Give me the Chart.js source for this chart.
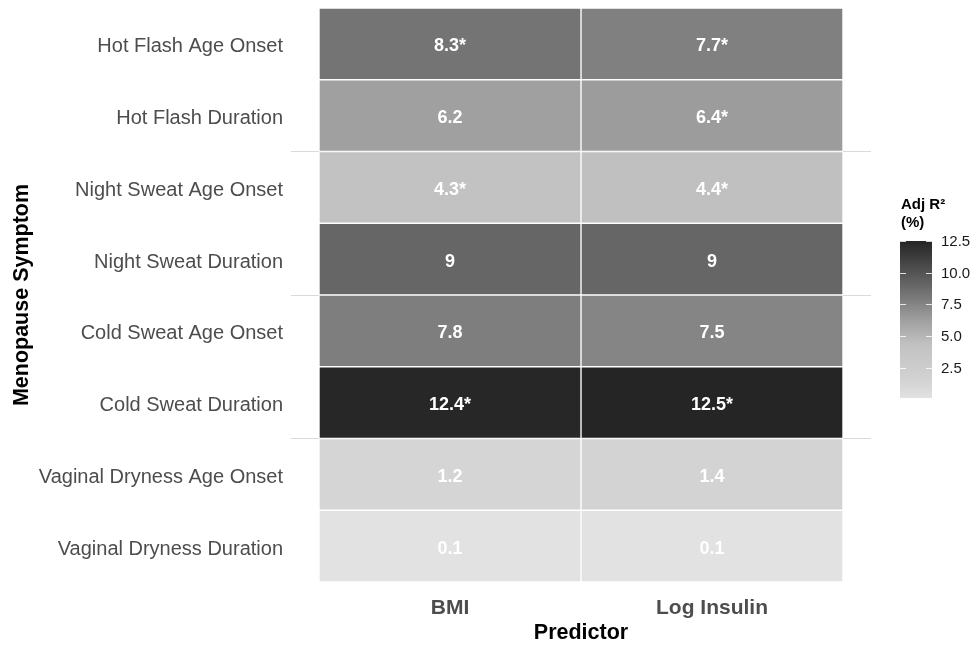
<!DOCTYPE html>
<html>
<head>
<meta charset="utf-8">
<script src="https://cdn.jsdelivr.net/npm/chart.js@4.4.1/dist/chart.umd.min.js"></script>
<style>
  html, body { margin: 0; padding: 0; background: #ffffff; }
  #heat { display: block; }
</style>
</head>
<body>
<canvas id="heat" width="976" height="646"></canvas>
<script>
// --- DATA ---
const symptoms = [
  "Hot Flash Age Onset", "Hot Flash Duration",
  "Night Sweat Age Onset", "Night Sweat Duration",
  "Cold Sweat Age Onset", "Cold Sweat Duration",
  "Vaginal Dryness Age Onset", "Vaginal Dryness Duration"
];
const predictors = ["BMI", "Log Insulin"];
const bmiR2 = [8.3, 6.2, 4.3, 9, 7.8, 12.4, 1.2, 0.1];
const insulinR2 = [7.7, 6.4, 4.4, 9, 7.5, 12.5, 1.4, 0.1];
const bmiSig = [true, false, true, false, false, true, false, false];
const insulinSig = [true, true, true, false, false, true, false, false];
const legendTicks = [2.5, 5.0, 7.5, 10.0, 12.5];
const fillMin = 0.1, fillMax = 12.5;

// grey ramp (value -> grey level)
const shadeStops = [[0.1, 226], [1.3, 212], [4.3, 194], [6.3, 158], [8.0, 122], [9, 102], [12.5, 37]];

const FONT = "'Liberation Sans', Arial, Helvetica, sans-serif";

function shade(v) {
  let g = shadeStops[0][1];
  for (let i = 1; i < shadeStops.length; i++) {
    const [v0, g0] = shadeStops[i - 1], [v1, g1] = shadeStops[i];
    if (v <= v1) { g = g0 + (g1 - g0) * Math.max(0, (v - v0) / (v1 - v0)); break; }
    g = g1;
  }
  g = Math.round(g);
  return `rgb(${g},${g},${g})`;
}

const columns = [bmiR2, insulinR2];
const stars = [bmiSig, insulinSig];

// one floating bar per cell, spanning its predictor column
const datasets = predictors.map((name, j) => ({
  label: name,
  data: symptoms.map(() => [j, j + 1]),
  backgroundColor: columns[j].map(shade),
  borderColor: "#ffffff",
  borderWidth: 1,
  borderSkipped: false,
  grouped: false,
  barPercentage: 1,
  categoryPercentage: 1
}));

// --- CELL LABELS ---
const cellText = {
  id: "cellText",
  afterDatasetsDraw(chart) {
    const ctx = chart.ctx;
    ctx.save();
    ctx.fillStyle = "#ffffff";
    ctx.font = "bold 18px " + FONT;
    ctx.textAlign = "center";
    ctx.textBaseline = "middle";
    chart.data.datasets.forEach((ds, j) => {
      chart.getDatasetMeta(j).data.forEach((bar, i) => {
        const c = bar.getCenterPoint();
        ctx.fillText(String(columns[j][i]) + (stars[j][i] ? "*" : ""), c.x, c.y + 2.5);
      });
    });
    ctx.restore();
  }
};

// --- COLOUR BAR LEGEND ---
const colourBar = {
  id: "colourBar",
  afterDraw(chart) {
    const ctx = chart.ctx;
    const x0 = 900, w = 32, top = 241, h = 157;
    const yOf = v => top + (fillMax - v) / (fillMax - fillMin) * h;
    ctx.save();
    const grad = ctx.createLinearGradient(0, top, 0, top + h);
    for (let k = 0; k <= 40; k++) {
      const v = fillMax - (fillMax - fillMin) * k / 40;
      grad.addColorStop(k / 40, shade(v));
    }
    ctx.fillStyle = grad;
    ctx.fillRect(x0, top, w, h);

    ctx.strokeStyle = "rgba(255,255,255,0.8)";
    ctx.lineWidth = 1;
    ctx.font = "15px " + FONT;
    ctx.fillStyle = "#1a1a1a";
    ctx.textAlign = "left";
    ctx.textBaseline = "middle";
    legendTicks.forEach(v => {
      const y = Math.round(yOf(v)) + 0.5;
      ctx.beginPath();
      ctx.moveTo(x0, y); ctx.lineTo(x0 + 6, y);
      ctx.moveTo(x0 + w - 6, y); ctx.lineTo(x0 + w, y);
      ctx.stroke();
      ctx.fillText(v.toFixed(1), x0 + 41, yOf(v) + 1);
    });

    ctx.fillStyle = "#000000";
    ctx.font = "bold 15px " + FONT;
    ctx.fillText("Adj R\u00B2", x0 + 1, 205);
    ctx.fillText("(%)", x0 + 1, 223);
    ctx.restore();
  }
};

new Chart(document.getElementById("heat"), {
  type: "bar",
  data: { labels: symptoms, datasets: datasets },
  options: {
    responsive: false,
    animation: false,
    devicePixelRatio: 1,
    indexAxis: "y",
    layout: { padding: { top: 8, right: 105, left: 0, bottom: 0 } },
    plugins: { legend: { display: false }, tooltip: { enabled: false } },
    scales: {
      x: {
        type: "linear",
        min: -0.107,
        max: 2.107,
        afterBuildTicks: scale => { scale.ticks = predictors.map((p, i) => ({ value: i + 0.5 })); },
        afterFit: scale => { scale.height = 64; scale.paddingLeft = 0; scale.paddingRight = 0; },
        grid: { display: false, drawTicks: false },
        border: { display: false },
        ticks: {
          autoSkip: false,
          maxRotation: 0,
          padding: 14,
          color: "#4d4d4d",
          font: { family: FONT, size: 21, weight: "bold" },
          callback: v => predictors[Math.floor(v)]
        },
        title: {
          display: true,
          text: "Predictor",
          color: "#000000",
          font: { family: FONT, size: 21.5, weight: "bold" },
          padding: { top: 0, bottom: 0 }
        }
      },
      y: {
        type: "category",
        afterFit: scale => { scale.width = 291; scale.paddingTop = 0; scale.paddingBottom = 0; },
        grid: {
          offset: true,
          drawTicks: false,
          lineWidth: 1,
          color: c => ([2, 4, 6].includes(c.index) ? "#dadada" : "rgba(0,0,0,0)")
        },
        border: { display: false },
        ticks: {
          padding: 8,
          labelOffset: 3,
          color: "#4d4d4d",
          font: { family: FONT, size: 20 }
        },
        title: {
          display: true,
          text: "Menopause Symptom",
          color: "#000000",
          font: { family: FONT, size: 21.5, weight: "bold" },
          padding: { top: 9, bottom: 0 }
        }
      }
    }
  },
  plugins: [cellText, colourBar]
});
</script>
</body>
</html>
